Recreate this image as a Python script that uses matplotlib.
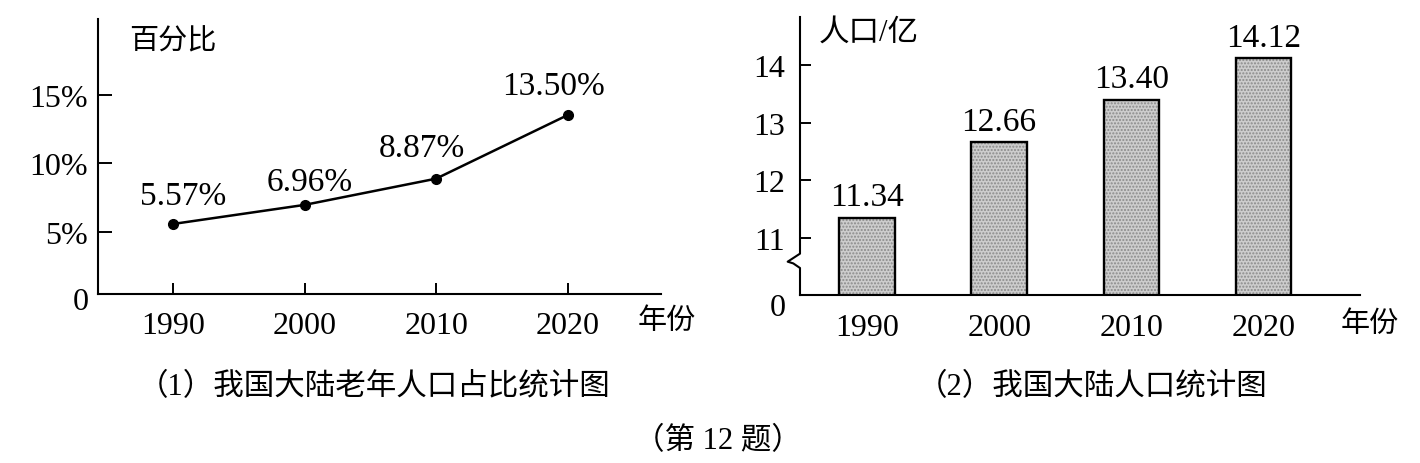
import matplotlib
matplotlib.use("Agg")
import matplotlib.pyplot as plt
import matplotlib.transforms as mtransforms
from matplotlib.lines import Line2D

plt.rcParams['font.family'] = ['Liberation Serif', 'Noto Sans CJK SC']

# --- data ---
years = [1990, 2000, 2010, 2020]
year_labels = ['1990', '2000', '2010', '2020']
elderly_pct = [5.57, 6.96, 8.87, 13.50]
elderly_text = ['5.57%', '6.96%', '8.87%', '13.50%']
population = [11.34, 12.66, 13.40, 14.12]
population_text = ['11.34', '12.66', '13.40', '14.12']
pct_ticks = [5, 10, 15]
pct_tick_labels = ['5%', '10%', '15%']
pop_ticks = [11, 12, 13, 14]
pop_tick_labels = ['11', '12', '13', '14']

# label offsets (points) for the line chart annotations
pct_label_offsets = [(7, 20), (4, 17), (-10, 22), (-10, 21)]

W, H = 1420, 464
fig = plt.figure(figsize=(W / 100, H / 100), dpi=100)


def fx(px):
    return px / W


def fy(py):
    return (H - py) / H


# ---------- (1) line chart ----------
ax1 = fig.add_axes([fx(98), fy(295), fx(661 - 98), (295 - 20) / H])
ax1.plot(years, elderly_pct, color='black', lw=1.8, marker='o', ms=7)
for x, y, t, off in zip(years, elderly_pct, elderly_text, pct_label_offsets):
    ax1.annotate(t, (x, y), xytext=off, textcoords='offset points',
                 ha='center', va='center', fontsize=24)
ax1.set_xlim(1984.3, 2027.1)
ax1.set_ylim(0.47, 20.5)
ax1.set_xticks(years)
ax1.set_xticklabels(year_labels, fontsize=23)
ax1.set_yticks(pct_ticks)
ax1.set_yticklabels(pct_tick_labels, fontsize=23)
ax1.tick_params(axis='y', direction='in', length=10, width=1.4, pad=7)
ax1.tick_params(axis='x', direction='in', length=8, width=1.4, pad=12)
for s in ['top', 'right']:
    ax1.spines[s].set_visible(False)
for s in ['left', 'bottom']:
    ax1.spines[s].set_linewidth(1.5)
fig.text(fx(81), fy(302), '0', fontsize=23, ha='center', va='center')
fig.text(fx(129), fy(42), '百分比', fontsize=21, ha='left', va='center')
fig.text(fx(667), fy(322), '年份', fontsize=21, ha='center', va='center')

# ---------- (2) bar chart ----------
ax2 = fig.add_axes([fx(800), fy(296), fx(1360 - 800), (296 - 18) / H])
xpos = list(range(len(years)))
ax2.bar(xpos, population, width=0.42, bottom=0, color='#cdcdcd',
        hatch='.....', edgecolor='#8a8a8a', linewidth=0, zorder=2)
ax2.bar(xpos, population, width=0.42, bottom=0, facecolor='none',
        edgecolor='black', linewidth=1.7, zorder=3)
for x, y, t in zip(xpos, population, population_text):
    ax2.annotate(t, (x, y), xytext=(0, 15), textcoords='offset points',
                 ha='center', va='center', fontsize=24)
ax2.set_xlim(-0.507, 3.73)
ax2.set_ylim(10.0, 14.84)
ax2.set_xticks(xpos)
ax2.set_xticklabels(year_labels, fontsize=23)
ax2.set_yticks(pop_ticks)
ax2.set_yticklabels(pop_tick_labels, fontsize=23)
ax2.tick_params(axis='y', direction='in', length=8, width=1.4, pad=11)
ax2.tick_params(axis='x', length=0, pad=13)
for s in ['top', 'right', 'left']:
    ax2.spines[s].set_visible(False)
ax2.spines['bottom'].set_linewidth(1.5)

# y axis with a break mark
trans = mtransforms.blended_transform_factory(ax2.transAxes, ax2.transData)
brk_x = [0, 0, -0.022, -0.012, 0, 0]
brk_y = [14.84, 10.72, 10.58, 10.55, 10.47, 10.0]
ax2.add_line(Line2D(brk_x, brk_y, transform=trans, color='black',
                    lw=1.5, clip_on=False, zorder=4))

fig.text(fx(778), fy(308), '0', fontsize=23, ha='center', va='center')
fig.text(fx(819), fy(33), '人口/亿', fontsize=22, ha='left', va='center')
fig.text(fx(1370), fy(325), '年份', fontsize=21, ha='center', va='center')

# ---------- captions ----------
fig.text(fx(374), fy(388), '（1）我国大陆老年人口占比统计图', fontsize=22,
         ha='center', va='center')
fig.text(fx(1092), fy(388), '（2）我国大陆人口统计图', fontsize=22,
         ha='center', va='center')
fig.text(fx(718), fy(442), '（第 12 题）', fontsize=22,
         ha='center', va='center')

fig.savefig('out.png', dpi=100, facecolor='white')
